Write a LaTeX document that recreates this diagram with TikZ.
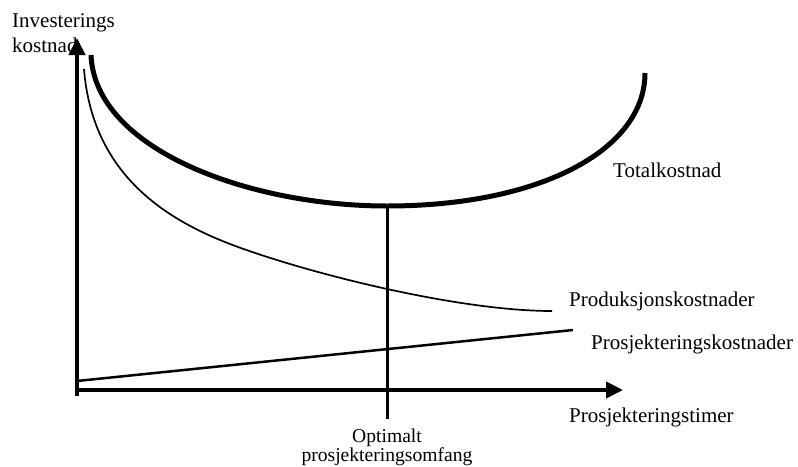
\documentclass[tikz,border=0pt]{standalone}
\usepackage{fontspec}
\setmainfont{Liberation Serif}
\usetikzlibrary{arrows.meta}
\begin{document}
\begin{tikzpicture}[x=1pt,y=-1pt,
  lbl/.style={anchor=base west, inner sep=0pt, font=\fontsize{21}{25}\selectfont},
  small/.style={anchor=base, inner sep=0pt, font=\fontsize{19.6}{20}\selectfont},
  axisline/.style={line width=4pt, -{Triangle[length=17pt,width=16pt]}},
  totalc/.style={line width=5pt},
  prodc/.style={line width=1.7pt},
  projc/.style={line width=2.5pt},
  optline/.style={line width=3pt}]
\useasboundingbox (0,0) rectangle (798,466);
% coordinates
\coordinate (ybot) at (77,396);
\coordinate (ytop) at (77,38);
\coordinate (xleft) at (77,390);
\coordinate (xtip) at (623,390);
\coordinate (tstart) at (91,55);
\coordinate (tmin) at (387,206);
\coordinate (tend) at (645,73);
\coordinate (pstart) at (84,69);
\coordinate (pmid) at (220,240);
\coordinate (pend) at (552,311);
\coordinate (jstart) at (77,381);
\coordinate (jend) at (573,330);
\coordinate (optbot) at (387,419);
% axes
\draw[axisline] (ybot) -- (ytop);
\draw[axisline] (xleft) -- (xtip);
% total cost
\draw[totalc] (tstart) .. controls (95,150) and (250,206) .. (tmin)
  .. controls (540,206) and (645,150) .. (tend);
% production cost
\draw[prodc] (pstart) .. controls (92,170) and (160,215) .. (pmid)
  .. controls (285,267) and (450,311) .. (pend);
% projection cost
\draw[projc] (jstart) -- (jend);
% optimum line
\draw[optline] (tmin) -- (optbot);
% labels
\node[lbl] (ylab1) at (12,27) {Investerings};
\node[lbl] (ylab2) at (12,52) {kostnad};
\node[lbl] (ltot) at (613,177) {Totalkostnad};
\node[lbl] (lprod) at (569,306) {Produksjonskostnader};
\node[lbl] (lproj) at (591,349) {Prosjekteringskostnader};
\node[lbl] (lx) at (569,422) {Prosjekteringstimer};
\node[small] (lopt1) at (387,442) {Optimalt};
\node[small] (lopt2) at (387,461) {prosjekteringsomfang};
\end{tikzpicture}
\end{document}
